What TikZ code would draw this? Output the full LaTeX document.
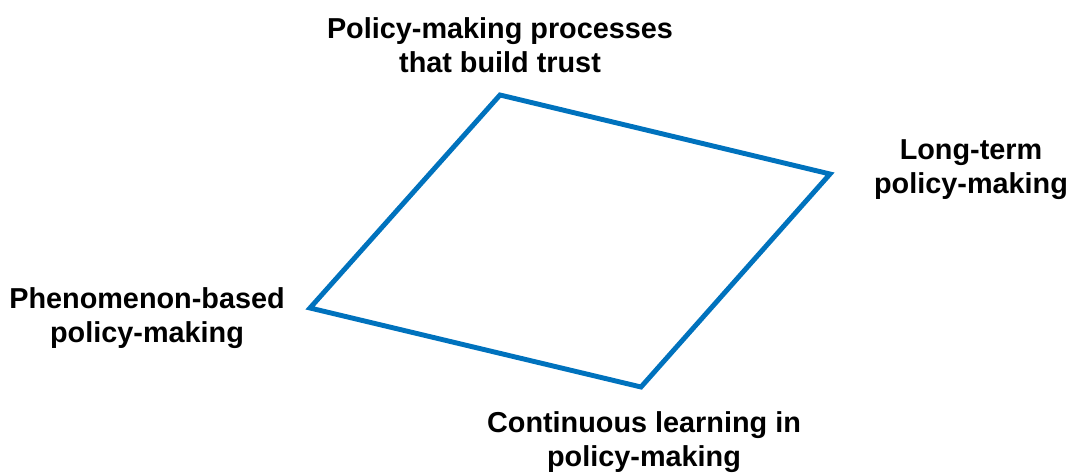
\documentclass[tikz,border=0pt]{standalone}
\usepackage{fontspec}
\setmainfont{Liberation Sans}
\usepackage{tikz}
\usetikzlibrary{positioning, calc}

\definecolor{edgeblue}{RGB}{0,114,189}

\begin{document}
\begin{tikzpicture}[
  % --- styles ------------------------------------------------------------
  pillar/.style={
    align=center, inner sep=0pt,
    font=\bfseries\fontsize{16.4}{19.4}\selectfont
  },
  rim/.style={draw=edgeblue, line width=2.8pt, line join=miter}
]
\useasboundingbox (0,0) rectangle (21.4,-9.48);

% --------------------- corners of the frame ------------------------------
\coordinate (cTop)    at (10,-1.9);
\coordinate (cRight)  at (16.6,-3.48);
\coordinate (cBottom) at (12.82,-7.74);
\coordinate (cLeft)   at (6.2,-6.16);

% --------------------- frame ---------------------------------------------
\draw[rim] (cTop) -- (cRight) -- (cBottom) -- (cLeft) -- cycle;

% --------------------- labels --------------------------------------------
\node[pillar] (trust)    at (10,-0.9)    {Policy-making processes\\that build trust};
\node[pillar] (longterm) at (19.42,-3.4) {Long-term\\policy-making};
\node[pillar] (learning) at (12.88,-8.84) {Continuous learning in\\policy-making};
\node[pillar] (phenom)   at (2.94,-6.36) {Phenomenon-based\\policy-making};

\end{tikzpicture}
\end{document}
